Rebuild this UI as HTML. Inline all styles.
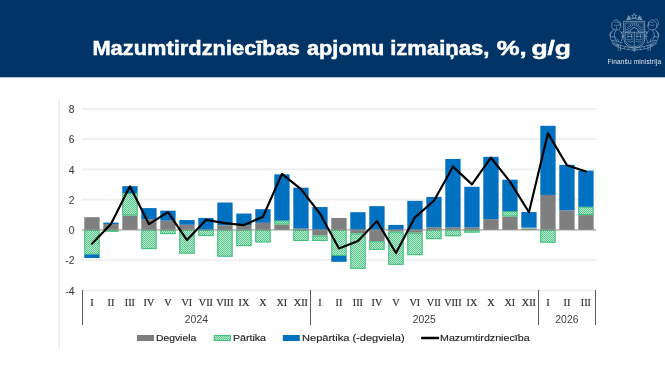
<!DOCTYPE html>
<html><head><meta charset="utf-8"><style>
html,body{margin:0;padding:0;background:#fff;}
body{width:665px;height:375px;overflow:hidden;position:relative;}
svg{position:absolute;left:0;top:0;will-change:transform;}
.yl{font-family:"Liberation Sans",sans-serif;font-size:10.4px;fill:#404040;stroke:#404040;stroke-width:0.08px;}
.cl{font-family:"Liberation Serif",serif;font-size:10.2px;fill:#333;stroke:#333;stroke-width:0.2px;}
.gl{font-family:"Liberation Sans",sans-serif;font-size:10.4px;fill:#404040;}
.lg{font-family:"Liberation Sans",sans-serif;font-size:9.6px;fill:#1e1e1e;stroke:#1e1e1e;stroke-width:0.15px;}
.tt{font-family:"Liberation Sans",sans-serif;font-weight:bold;font-size:20.4px;fill:#fff;stroke:#fff;stroke-width:0.5px;}
.fm{font-family:"Liberation Sans",sans-serif;font-size:6.5px;fill:#e6eaf2;}
</style></head><body>
<svg width="665" height="375" viewBox="0 0 665 375">
<defs>
<pattern id="hatch" width="2" height="2" patternUnits="userSpaceOnUse">
<rect width="2" height="2" fill="#bfead2"/>
<rect width="1" height="1" fill="#55c98b"/>
<rect x="1" y="1" width="1" height="1" fill="#55c98b"/>
</pattern>
</defs>
<rect x="0" y="0" width="665" height="77" fill="#003366"/>
<rect x="0" y="77" width="665" height="1" fill="#b8c3d2"/>
<rect x="0" y="78" width="665" height="1" fill="#f5f7f9"/>
<text x="92.40" y="54.8" class="tt" textLength="207.63" lengthAdjust="spacingAndGlyphs">Mazumtirdzniecības</text>
<text x="307.00" y="54.8" class="tt" textLength="77.26" lengthAdjust="spacingAndGlyphs">apjomu</text>
<text x="390.20" y="54.8" class="tt" textLength="99.27" lengthAdjust="spacingAndGlyphs">izmaiņas,</text>
<text x="496.80" y="54.8" class="tt" textLength="29.95" lengthAdjust="spacingAndGlyphs">%,</text>
<text x="531.40" y="54.8" class="tt" textLength="39.63" lengthAdjust="spacingAndGlyphs">g/g</text>
<g fill="none" stroke="#dfe5ee" stroke-width="0.5" stroke-linejoin="round" stroke-linecap="round" opacity="0.85">
<!-- stars crown -->
<path d="M626.5 19.6 Q634.3 17.2 642.2 19.6 M627.3 19.6 L629 17 L630.5 19 M638.2 19 L639.7 17 L641.4 19.6"/>
<path d="M634.3 13.6 l0.8 1.7 1.8 .2 -1.35 1.2 .45 1.8 -1.7 -.9 -1.7 .9 .45 -1.8 -1.35 -1.2 1.8 -.2z"/>
<path d="M628.8 15.9 l0.6 1.2 1.3 .15 -1 .85 .3 1.3 -1.2 -.65 -1.2 .65 .3 -1.3 -1 -.85 1.3 -.15z"/>
<path d="M639.8 15.9 l0.6 1.2 1.3 .15 -1 .85 .3 1.3 -1.2 -.65 -1.2 .65 .3 -1.3 -1 -.85 1.3 -.15z"/>
<!-- shield -->
<path d="M624 21.3 H644.7 V39.5 Q644.7 46 634.3 48.5 Q624 46 624 39.5 Z" stroke-width="0.6"/>
<path d="M625.5 22.9 H643.2 V39.2 Q643.2 44.6 634.3 46.8 Q625.5 44.6 625.5 39.2 Z" stroke-width="0.4"/>
<!-- sun -->
<path d="M630 32 A4.3 4.3 0 0 1 638.6 32" stroke-width="0.7"/>
<path d="M628.6 32 L626.2 32 M628.8 30.3 L626.5 29.6 M629.3 28.6 L627.2 27.4 M630.2 27.3 L628.5 25.6 M631.2 26.4 L630 24.4 M632.6 25.8 L632 23.6 M634.3 25.6 V23.4 M636 25.8 L636.6 23.6 M637.4 26.4 L638.6 24.4 M638.4 27.3 L640.1 25.6 M639.3 28.6 L641.4 27.4 M639.8 30.3 L642.1 29.6 M640 32 L642.4 32" stroke-width="0.55"/>
<path d="M625.5 32.3 H643.2 M634.3 32.3 V46.8"/>
<!-- panels: lion left, griffin right -->
<path d="M627 34 q1.5 -1 3 0 q1.5 1 3 -0.5 M627.3 36.5 h5.5 M628 34.5 v3.5 M631.5 34.5 v3.5 M627 39.5 q3 1.5 6 -0.5 M628 41.5 q2.5 1.5 5 0" stroke-width="0.45"/>
<path d="M636 34 q1.5 -1 3 0 q1.5 1 3 -0.5 M636 36.5 h5.5 M637 34.5 v3.5 M640.5 34.5 v3.5 M636 39.5 q3 1.5 6 -0.5 M636 41.5 q2.5 1.5 5 0" stroke-width="0.45"/>
<!-- left lion supporter -->
<path d="M616.5 19.8 q-3 0 -3.8 2.5 q-1.8 1.5 -0.6 3.6 q-0.8 2 1.2 3.2 q1.5 1.2 3.5 0.6 q2.2 0.5 3.2 -1.3 q1.4 -1.8 0.4 -3.8 q0.3 -2.6 -1.9 -3.6 Z"/>
<path d="M615 22.5 q1.5 -1.2 3.2 0 M614.5 25 q2.2 1.2 4.4 0 M616.5 27 v1.5 M619.5 22 q1.5 1.5 0.5 4"  stroke-width="0.45"/>
<path d="M613.8 29.5 q-3.6 2.2 -3.6 6.2 q0 4 2.6 7 q2.4 2.4 6 3 M616.3 30.2 q-2.6 2.6 -2 6.2 q0.5 3 3 5 q2 1.5 4.6 1.4 M619.8 30.5 q2.6 1.6 3 5.2 q0 3 -1.6 5.6 M611.8 36.8 q2 -1.2 3.6 0.4 M612.3 40.6 q2.5 -1.2 4.2 0.9 M621 33 l2.5 -1.5 M621.5 36.5 l2.4 -0.6 M612 31.5 q-2.3 1 -2.2 3.5 q-0.3 1.5 1 2 M617 38.5 q1.5 1 1.5 3"/>
<path d="M618.2 44.8 V50.5 M620.6 45.2 V50.5" stroke-width="0.5"/>
<!-- right griffin supporter -->
<path d="M652.1 19.8 q3 0 3.8 2.5 q1.8 1.5 0.6 3.6 q0.8 2 -1.2 3.2 q-1.5 1.2 -3.5 0.6 q-2.2 0.5 -3.2 -1.3 q-1.4 -1.8 -0.4 -3.8 q-0.3 -2.6 1.9 -3.6 Z"/>
<path d="M655.5 19 q2.5 0.8 3 3.5 q0.4 2.6 -1.2 4.6 M653.6 22.5 q-1.5 -1.2 -3.2 0 M654.1 25 q-2.2 1.2 -4.4 0 M649 22 q-1.5 1.5 -0.5 4" stroke-width="0.45"/>
<path d="M654.8 29.5 q3.6 2.2 3.6 6.2 q0 4 -2.6 7 q-2.4 2.4 -6 3 M652.3 30.2 q2.6 2.6 2 6.2 q-0.5 3 -3 5 q-2 1.5 -4.6 1.4 M648.8 30.5 q-2.6 1.6 -3 5.2 q0 3 1.6 5.6 M656.8 36.8 q-2 -1.2 -3.6 0.4 M656.3 40.6 q-2.5 -1.2 -4.2 0.9 M647.6 33 l-2.5 -1.5 M647.1 36.5 l-2.4 -0.6 M656.6 31.5 q2.3 1 2.2 3.5 q0.3 1.5 -1 2 M651.6 38.5 q-1.5 1 -1.5 3"/>
<path d="M650.4 44.8 V50.5 M648 45.2 V50.5" stroke-width="0.5"/>
<!-- oak branches / base -->
<path d="M612 43.5 q8 6.5 22.3 6.5 q14.3 0 22.3 -6.5 M614 42 q7.5 5.5 20.3 5.5 q12.8 0 20.3 -5.5" stroke-width="0.45"/>
<path d="M616 46 l1.5 -1.5 M624 48.5 l1.2 -1.8 M628 49.5 l0.8 -1.8 M652.6 46 l-1.5 -1.5 M644.6 48.5 l-1.2 -1.8 M640.6 49.5 l-0.8 -1.8" stroke-width="0.45"/>
<path d="M632 49 q2.3 3.5 4.6 0 M634.3 48.5 V52" stroke-width="0.45"/>
</g>
<text x="607.4" y="64.0" class="fm" textLength="53.6" lengthAdjust="spacing">Finanšu ministrija</text>
<rect x="58.4" y="99" width="1.5" height="251.5" fill="#ebebeb"/>
<rect x="82" y="107.96" width="514" height="1.8" fill="#efefef"/>
<rect x="82" y="138.22" width="514" height="1.8" fill="#efefef"/>
<rect x="82" y="168.48" width="514" height="1.8" fill="#efefef"/>
<rect x="82" y="198.74" width="514" height="1.8" fill="#efefef"/>
<rect x="82" y="259.26" width="514" height="1.8" fill="#efefef"/>
<rect x="82" y="289.52" width="514" height="1.8" fill="#efefef"/>
<rect x="84.30" y="217.19" width="15.3" height="12.71" fill="#7f7f7f"/>
<rect x="84.30" y="229.90" width="15.3" height="24.66" fill="url(#hatch)"/>
<rect x="84.80" y="230.40" width="14.3" height="23.66" fill="none" stroke="#3fc07a" stroke-width="1"/>
<rect x="84.30" y="254.56" width="15.3" height="3.48" fill="#0070c0"/>
<rect x="103.30" y="224.00" width="15.3" height="5.90" fill="#7f7f7f"/>
<rect x="103.30" y="229.90" width="15.3" height="1.82" fill="url(#hatch)"/>
<rect x="103.80" y="230.40" width="14.3" height="0.82" fill="none" stroke="#3fc07a" stroke-width="1"/>
<rect x="103.30" y="222.64" width="15.3" height="1.36" fill="#0070c0"/>
<rect x="122.30" y="215.38" width="15.3" height="14.52" fill="#7f7f7f"/>
<rect x="122.30" y="193.13" width="15.3" height="22.24" fill="url(#hatch)"/>
<rect x="122.80" y="193.63" width="14.3" height="21.24" fill="none" stroke="#3fc07a" stroke-width="1"/>
<rect x="122.30" y="186.17" width="15.3" height="6.96" fill="#0070c0"/>
<rect x="141.30" y="219.16" width="15.3" height="10.74" fill="#7f7f7f"/>
<rect x="141.30" y="229.90" width="15.3" height="19.22" fill="url(#hatch)"/>
<rect x="141.80" y="230.40" width="14.3" height="18.22" fill="none" stroke="#3fc07a" stroke-width="1"/>
<rect x="141.30" y="208.11" width="15.3" height="11.04" fill="#0070c0"/>
<rect x="160.30" y="220.67" width="15.3" height="9.23" fill="#7f7f7f"/>
<rect x="160.30" y="229.90" width="15.3" height="4.24" fill="url(#hatch)"/>
<rect x="160.80" y="230.40" width="14.3" height="3.24" fill="none" stroke="#3fc07a" stroke-width="1"/>
<rect x="160.30" y="210.68" width="15.3" height="9.99" fill="#0070c0"/>
<rect x="179.30" y="224.76" width="15.3" height="5.14" fill="#7f7f7f"/>
<rect x="179.30" y="229.90" width="15.3" height="23.75" fill="url(#hatch)"/>
<rect x="179.80" y="230.40" width="14.3" height="22.75" fill="none" stroke="#3fc07a" stroke-width="1"/>
<rect x="179.30" y="220.07" width="15.3" height="4.69" fill="#0070c0"/>
<rect x="198.30" y="229.90" width="15.3" height="6.20" fill="url(#hatch)"/>
<rect x="198.80" y="230.40" width="14.3" height="5.20" fill="none" stroke="#3fc07a" stroke-width="1"/>
<rect x="198.30" y="217.95" width="15.3" height="11.95" fill="#0070c0"/>
<rect x="217.30" y="225.21" width="15.3" height="4.69" fill="#7f7f7f"/>
<rect x="217.30" y="229.90" width="15.3" height="26.78" fill="url(#hatch)"/>
<rect x="217.80" y="230.40" width="14.3" height="25.78" fill="none" stroke="#3fc07a" stroke-width="1"/>
<rect x="217.30" y="202.51" width="15.3" height="22.69" fill="#0070c0"/>
<rect x="236.30" y="225.06" width="15.3" height="4.84" fill="#7f7f7f"/>
<rect x="236.30" y="229.90" width="15.3" height="16.19" fill="url(#hatch)"/>
<rect x="236.80" y="230.40" width="14.3" height="15.19" fill="none" stroke="#3fc07a" stroke-width="1"/>
<rect x="236.30" y="213.56" width="15.3" height="11.50" fill="#0070c0"/>
<rect x="255.30" y="222.79" width="15.3" height="7.11" fill="#7f7f7f"/>
<rect x="255.30" y="229.90" width="15.3" height="12.56" fill="url(#hatch)"/>
<rect x="255.80" y="230.40" width="14.3" height="11.56" fill="none" stroke="#3fc07a" stroke-width="1"/>
<rect x="255.30" y="209.17" width="15.3" height="13.62" fill="#0070c0"/>
<rect x="274.30" y="224.45" width="15.3" height="5.45" fill="#7f7f7f"/>
<rect x="274.30" y="220.52" width="15.3" height="3.93" fill="url(#hatch)"/>
<rect x="274.80" y="221.02" width="14.3" height="2.93" fill="none" stroke="#3fc07a" stroke-width="1"/>
<rect x="274.30" y="174.37" width="15.3" height="46.15" fill="#0070c0"/>
<rect x="293.30" y="228.54" width="15.3" height="1.36" fill="#7f7f7f"/>
<rect x="293.30" y="229.90" width="15.3" height="11.04" fill="url(#hatch)"/>
<rect x="293.80" y="230.40" width="14.3" height="10.04" fill="none" stroke="#3fc07a" stroke-width="1"/>
<rect x="293.30" y="187.69" width="15.3" height="40.85" fill="#0070c0"/>
<rect x="312.30" y="229.90" width="15.3" height="5.75" fill="#7f7f7f"/>
<rect x="312.30" y="235.65" width="15.3" height="5.30" fill="url(#hatch)"/>
<rect x="312.80" y="236.15" width="14.3" height="4.30" fill="none" stroke="#3fc07a" stroke-width="1"/>
<rect x="312.30" y="207.05" width="15.3" height="22.85" fill="#0070c0"/>
<rect x="331.30" y="217.95" width="15.3" height="11.95" fill="#7f7f7f"/>
<rect x="331.30" y="229.90" width="15.3" height="26.02" fill="url(#hatch)"/>
<rect x="331.80" y="230.40" width="14.3" height="25.02" fill="none" stroke="#3fc07a" stroke-width="1"/>
<rect x="331.30" y="255.92" width="15.3" height="5.90" fill="#0070c0"/>
<rect x="350.30" y="229.90" width="15.3" height="3.63" fill="#7f7f7f"/>
<rect x="350.30" y="233.53" width="15.3" height="35.25" fill="url(#hatch)"/>
<rect x="350.80" y="234.03" width="14.3" height="34.25" fill="none" stroke="#3fc07a" stroke-width="1"/>
<rect x="350.30" y="212.20" width="15.3" height="17.70" fill="#0070c0"/>
<rect x="369.30" y="229.90" width="15.3" height="11.35" fill="#7f7f7f"/>
<rect x="369.30" y="241.25" width="15.3" height="8.62" fill="url(#hatch)"/>
<rect x="369.80" y="241.75" width="14.3" height="7.62" fill="none" stroke="#3fc07a" stroke-width="1"/>
<rect x="369.30" y="206.15" width="15.3" height="23.75" fill="#0070c0"/>
<rect x="388.30" y="229.90" width="15.3" height="1.82" fill="#7f7f7f"/>
<rect x="388.30" y="231.72" width="15.3" height="33.13" fill="url(#hatch)"/>
<rect x="388.80" y="232.22" width="14.3" height="32.13" fill="none" stroke="#3fc07a" stroke-width="1"/>
<rect x="388.30" y="224.91" width="15.3" height="4.99" fill="#0070c0"/>
<rect x="407.30" y="229.90" width="15.3" height="2.87" fill="#7f7f7f"/>
<rect x="407.30" y="232.77" width="15.3" height="22.39" fill="url(#hatch)"/>
<rect x="407.80" y="233.27" width="14.3" height="21.39" fill="none" stroke="#3fc07a" stroke-width="1"/>
<rect x="407.30" y="200.85" width="15.3" height="29.05" fill="#0070c0"/>
<rect x="426.30" y="227.33" width="15.3" height="2.57" fill="#7f7f7f"/>
<rect x="426.30" y="229.90" width="15.3" height="9.23" fill="url(#hatch)"/>
<rect x="426.80" y="230.40" width="14.3" height="8.23" fill="none" stroke="#3fc07a" stroke-width="1"/>
<rect x="426.30" y="196.92" width="15.3" height="30.41" fill="#0070c0"/>
<rect x="445.30" y="227.33" width="15.3" height="2.57" fill="#7f7f7f"/>
<rect x="445.30" y="229.90" width="15.3" height="6.35" fill="url(#hatch)"/>
<rect x="445.80" y="230.40" width="14.3" height="5.35" fill="none" stroke="#3fc07a" stroke-width="1"/>
<rect x="445.30" y="158.94" width="15.3" height="68.39" fill="#0070c0"/>
<rect x="464.30" y="227.48" width="15.3" height="2.42" fill="#7f7f7f"/>
<rect x="464.30" y="229.90" width="15.3" height="2.72" fill="url(#hatch)"/>
<rect x="464.80" y="230.40" width="14.3" height="1.72" fill="none" stroke="#3fc07a" stroke-width="1"/>
<rect x="464.30" y="186.78" width="15.3" height="40.70" fill="#0070c0"/>
<rect x="483.30" y="219.16" width="15.3" height="10.74" fill="#7f7f7f"/>
<rect x="483.30" y="156.82" width="15.3" height="62.34" fill="#0070c0"/>
<rect x="502.30" y="216.43" width="15.3" height="13.47" fill="#7f7f7f"/>
<rect x="502.30" y="211.14" width="15.3" height="5.30" fill="url(#hatch)"/>
<rect x="502.80" y="211.64" width="14.3" height="4.30" fill="none" stroke="#3fc07a" stroke-width="1"/>
<rect x="502.30" y="179.67" width="15.3" height="31.47" fill="#0070c0"/>
<rect x="521.30" y="228.39" width="15.3" height="1.51" fill="#7f7f7f"/>
<rect x="521.30" y="227.63" width="15.3" height="0.76" fill="url(#hatch)"/>
<rect x="521.30" y="212.05" width="15.3" height="15.58" fill="#0070c0"/>
<rect x="540.30" y="194.95" width="15.3" height="34.95" fill="#7f7f7f"/>
<rect x="540.30" y="229.90" width="15.3" height="12.86" fill="url(#hatch)"/>
<rect x="540.80" y="230.40" width="14.3" height="11.86" fill="none" stroke="#3fc07a" stroke-width="1"/>
<rect x="540.30" y="125.81" width="15.3" height="69.14" fill="#0070c0"/>
<rect x="559.30" y="210.38" width="15.3" height="19.52" fill="#7f7f7f"/>
<rect x="559.30" y="164.84" width="15.3" height="45.54" fill="#0070c0"/>
<rect x="578.30" y="215.07" width="15.3" height="14.83" fill="#7f7f7f"/>
<rect x="578.30" y="206.75" width="15.3" height="8.32" fill="url(#hatch)"/>
<rect x="578.80" y="207.25" width="14.3" height="7.32" fill="none" stroke="#3fc07a" stroke-width="1"/>
<rect x="578.30" y="170.59" width="15.3" height="36.16" fill="#0070c0"/>
<line x1="82" y1="229.9" x2="596" y2="229.9" stroke="#8c8c8c" stroke-width="1"/>
<polyline points="91.95,243.67 110.95,224.00 129.95,186.33 148.95,224.15 167.95,212.05 186.95,240.04 205.95,219.91 224.95,223.09 243.95,225.06 262.95,216.74 281.95,173.92 300.95,189.05 319.95,213.56 338.95,248.51 357.95,240.94 376.95,221.12 395.95,253.05 414.95,217.34 433.95,200.70 452.95,166.66 471.95,184.36 490.95,157.73 509.95,181.64 528.95,212.20 547.95,133.37 566.95,165.29 585.95,171.50" fill="none" stroke="#000" stroke-width="2.15" stroke-linejoin="round" stroke-linecap="round"/>
<text x="74.5" y="113.0" text-anchor="end" class="yl">8</text>
<text x="74.5" y="143.2" text-anchor="end" class="yl">6</text>
<text x="74.5" y="173.5" text-anchor="end" class="yl">4</text>
<text x="74.5" y="203.7" text-anchor="end" class="yl">2</text>
<text x="74.5" y="234.0" text-anchor="end" class="yl">0</text>
<text x="74.5" y="264.3" text-anchor="end" class="yl">-2</text>
<text x="74.5" y="294.5" text-anchor="end" class="yl">-4</text>
<text x="91.9" y="306" text-anchor="middle" class="cl">I</text>
<text x="110.9" y="306" text-anchor="middle" class="cl">II</text>
<text x="129.9" y="306" text-anchor="middle" class="cl">III</text>
<text x="148.9" y="306" text-anchor="middle" class="cl">IV</text>
<text x="167.9" y="306" text-anchor="middle" class="cl">V</text>
<text x="186.9" y="306" text-anchor="middle" class="cl">VI</text>
<text x="205.9" y="306" text-anchor="middle" class="cl">VII</text>
<text x="224.9" y="306" text-anchor="middle" class="cl">VIII</text>
<text x="243.9" y="306" text-anchor="middle" class="cl">IX</text>
<text x="262.9" y="306" text-anchor="middle" class="cl">X</text>
<text x="281.9" y="306" text-anchor="middle" class="cl">XI</text>
<text x="300.9" y="306" text-anchor="middle" class="cl">XII</text>
<text x="319.9" y="306" text-anchor="middle" class="cl">I</text>
<text x="338.9" y="306" text-anchor="middle" class="cl">II</text>
<text x="357.9" y="306" text-anchor="middle" class="cl">III</text>
<text x="376.9" y="306" text-anchor="middle" class="cl">IV</text>
<text x="395.9" y="306" text-anchor="middle" class="cl">V</text>
<text x="414.9" y="306" text-anchor="middle" class="cl">VI</text>
<text x="433.9" y="306" text-anchor="middle" class="cl">VII</text>
<text x="452.9" y="306" text-anchor="middle" class="cl">VIII</text>
<text x="471.9" y="306" text-anchor="middle" class="cl">IX</text>
<text x="490.9" y="306" text-anchor="middle" class="cl">X</text>
<text x="509.9" y="306" text-anchor="middle" class="cl">XI</text>
<text x="528.9" y="306" text-anchor="middle" class="cl">XII</text>
<text x="547.9" y="306" text-anchor="middle" class="cl">I</text>
<text x="566.9" y="306" text-anchor="middle" class="cl">II</text>
<text x="585.9" y="306" text-anchor="middle" class="cl">III</text>
<text x="196.4" y="323" text-anchor="middle" class="gl">2024</text>
<text x="424.3" y="323" text-anchor="middle" class="gl">2025</text>
<text x="566.9" y="323" text-anchor="middle" class="gl">2026</text>
<line x1="82.5" y1="290" x2="82.5" y2="325" stroke="#595959" stroke-width="1"/>
<line x1="310.5" y1="290" x2="310.5" y2="325" stroke="#595959" stroke-width="1"/>
<line x1="538.5" y1="290" x2="538.5" y2="325" stroke="#595959" stroke-width="1"/>
<line x1="595.5" y1="290" x2="595.5" y2="325" stroke="#595959" stroke-width="1"/>
<rect x="137" y="335" width="17" height="6" fill="#7f7f7f"/>
<text x="156" y="340.9" class="lg" textLength="40.2" lengthAdjust="spacingAndGlyphs">Degviela</text>
<rect x="213.8" y="335" width="17" height="6" fill="url(#hatch)"/>
<rect x="214.3" y="335.5" width="16" height="5" fill="none" stroke="#3fc07a" stroke-width="1"/>
<text x="233" y="340.9" class="lg" textLength="33" lengthAdjust="spacingAndGlyphs">Pārtika</text>
<rect x="282.8" y="335" width="17" height="6" fill="#0070c0"/>
<text x="302" y="340.9" class="lg" textLength="102.6" lengthAdjust="spacingAndGlyphs">Nepārtika (-degviela)</text>
<line x1="422.2" y1="337.9" x2="438" y2="337.9" stroke="#000" stroke-width="2.5" stroke-linecap="round"/>
<text x="440" y="340.9" class="lg" textLength="89.6" lengthAdjust="spacingAndGlyphs">Mazumtirdzniecība</text>
</svg>
</body></html>
